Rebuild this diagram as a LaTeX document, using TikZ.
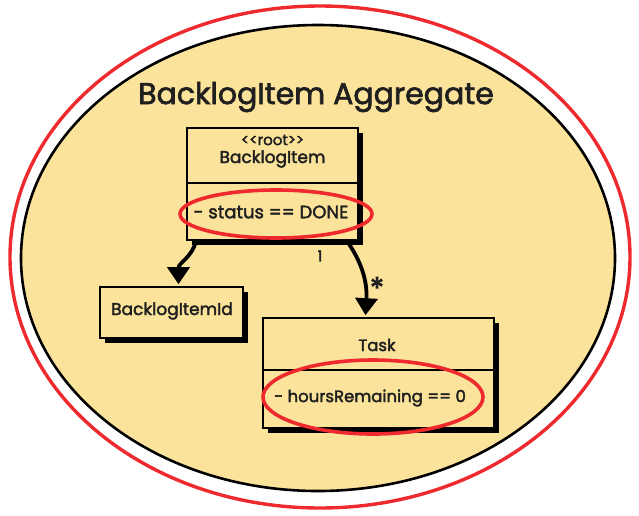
\documentclass[tikz,border=0pt]{standalone}
\usepackage{fontspec}
\setmainfont{Poppins}[FakeBold=2.2]
\usetikzlibrary{calc,shadows,arrows.meta,shapes.geometric}
\definecolor{paper}{HTML}{FBE39B}
\definecolor{mark}{HTML}{EE2A2E}
\tikzset{
  umlbox/.style={draw=black, line width=1.6pt, fill=paper, rectangle, inner sep=0pt,
    drop shadow={shadow xshift=5pt, shadow yshift=-5pt, fill=black, opacity=1}},
  lbl/.style={font=\fontsize{16.5}{18}\selectfont, text=black!88},
  assoc/.style={line width=3.8pt, -{Triangle[length=17pt,width=22pt]}},
  hilite/.style={draw=mark, line width=3.6pt, ellipse},
}
\begin{document}
\begin{tikzpicture}[x=1pt,y=-1pt]
\useasboundingbox (0,0) rectangle (639,515);
% aggregate boundary
\node[draw=black, line width=2.6pt, fill=paper, ellipse, minimum width=594pt, minimum height=466pt, inner sep=0pt] (agg) at (318,258) {};
\node[draw=mark, line width=3.4pt, ellipse, minimum width=620pt, minimum height=502pt, inner sep=0pt] (ring) at (320,257) {};
\node[font=\fontsize{30}{34}\selectfont, text=black!88] (title) at (316,97) {BacklogItem Aggregate};

% root entity
\node[umlbox, minimum width=171pt, minimum height=112pt] (bi) at (272.5,184) {};
\draw[line width=1.6pt] ($(bi.west)+(0,-1)$) coordinate (bil) -- ($(bi.east)+(0,-1)$) coordinate (bir);
\node[lbl, font=\fontsize{15}{17}\selectfont] (bistereo) at (272.5,140) {{<}{<}root{>}{>}};
\node[lbl, font=\fontsize{17}{19}\selectfont] (biname) at (272.5,159) {BacklogItem};
\node[lbl, font=\fontsize{18}{20}\selectfont] (bistatus) at (271,212) {- status == DONE};

% identity value
\node[umlbox, minimum width=143pt, minimum height=51pt] (bid) at (171.5,312.5) {};
\node[lbl, font=\fontsize{17}{19}\selectfont] (bidname) at (172,311) {BacklogItemId};

% task entity
\node[umlbox, minimum width=231pt, minimum height=110pt] (task) at (378.5,373) {};
\draw[line width=1.6pt] ($(task.west)+(0,-3)$) coordinate (tl) -- ($(task.east)+(0,-3)$) coordinate (tr);
\node[lbl] (taskname) at (377,345) {Task};
\node[lbl] (taskhours) at (370,398) {- hoursRemaining == 0};

% associations
\coordinate (a1s) at ($(bi.south west)+(10,0)$);
\coordinate (a1e) at ($(bid.north)+(7,-2)$);
\draw[assoc] (a1s) .. controls ($(a1s)+(-5,18)$) and ($(a1e)+(0,-22)$) .. (a1e);
\coordinate (a2s) at ($(bi.south east)+(-12,0)$);
\coordinate (a2e) at ($(task.north)+(-13,-2)$);
\draw[assoc] (a2s) .. controls ($(a2s)+(14,20)$) and ($(a2e)+(2,-35)$) .. (a2e);
\node[font=\fontsize{15}{17}\selectfont, text=black!88] (one) at (320,256) {1};
\node[font=\fontsize{30}{32}\selectfont, text=black!88] (many) at (377,288) {*};

% highlighted invariants
\node[hilite, minimum width=192pt, minimum height=48pt] (hl1) at (276,214) {};
\node[hilite, minimum width=220pt, minimum height=74pt] (hl2) at (373,397) {};
\end{tikzpicture}
\end{document}
